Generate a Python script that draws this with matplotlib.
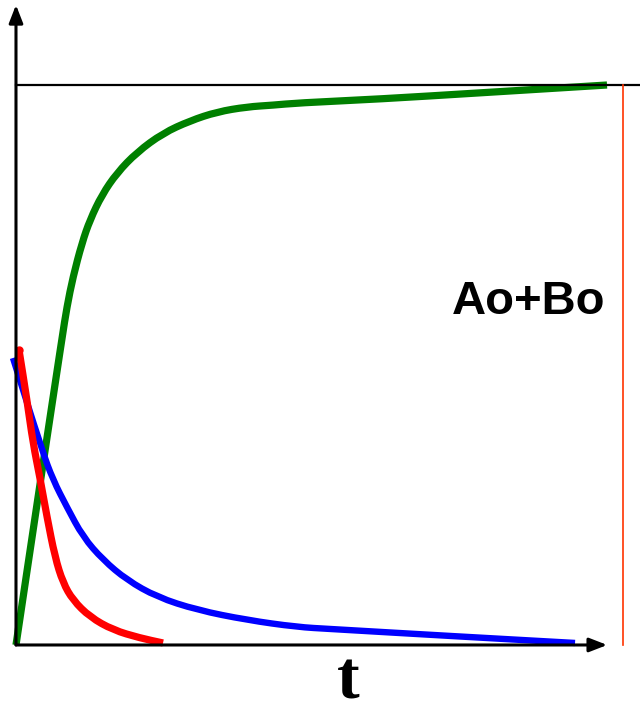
import numpy as np
import matplotlib
matplotlib.use('Agg')
from matplotlib import pyplot as plt
from matplotlib.path import Path
from matplotlib.patches import PathPatch

# product (green), reactant A (blue), reactant B (red): t vs concentration
t_verde = [0.0, 0.407, 0.780, 0.864, 0.966, 1.119, 1.254, 1.458, 1.712, 2.051,
           2.492, 2.949, 3.407, 3.915, 4.356, 4.780, 6.169, 7.864, 10.017]
c_verde = [0.0, 0.2875, 0.548, 0.604, 0.657, 0.718, 0.759, 0.804, 0.843, 0.880,
           0.914, 0.936, 0.952, 0.961, 0.964, 0.968, 0.975, 0.986, 1.0]

t_azul = [-0.051, 0.441, 0.627, 0.864, 1.136, 1.475, 1.881, 2.390,
          3.068, 3.915, 4.763, 5.322, 7.356, 9.475]
c_azul = [0.5125, 0.348, 0.295, 0.246, 0.193, 0.152, 0.116, 0.0857,
          0.0625, 0.0446, 0.0321, 0.0286, 0.0161, 0.0036]

t_verm = [0.051, 0.186, 0.288, 0.407, 0.525, 0.661, 0.797, 0.966, 1.254,
          1.644, 2.102, 2.492]
c_verm = [0.527, 0.4375, 0.361, 0.298, 0.229, 0.157, 0.111, 0.080, 0.050,
          0.0268, 0.0125, 0.0036]

total = 1.0          # Ao+Bo
t_fim = 10.29        # marcador vertical
rotulo = 'Ao+Bo'
eixo_x = 't'


def curva(ax, t, c, **kw):
    # curva suave: pontos lidos como controles de bezier quadraticas
    v = np.column_stack([t, c])
    m = (v[:-1] + v[1:]) / 2
    verts = [v[0], m[0]]
    codes = [Path.MOVETO, Path.LINETO]
    for i in range(1, len(v) - 1):
        verts += [v[i], m[i]]
        codes += [Path.CURVE3, Path.CURVE3]
    verts.append(v[-1])
    codes.append(Path.LINETO)
    ax.add_patch(PathPatch(Path(verts, codes), fill=False,
                           capstyle='butt', joinstyle='round', **kw))


fig = plt.figure(figsize=(6.4, 7.11), dpi=100)
ax = fig.add_axes([0, 0, 1, 1])
ax.set_xlim(-0.271, 10.576)
ax.set_ylim(-0.1179, 1.1518)
ax.axis('off')

# eixos com setas
seta = dict(arrowstyle='-|>,head_length=0.9,head_width=0.35', lw=2.2,
            color='black', shrinkA=0, shrinkB=0, mutation_scale=12)
ax.annotate('', xy=(0, 1.143), xytext=(0, 0), arrowprops=seta)
ax.annotate('', xy=(10.02, 0), xytext=(0, 0), arrowprops=seta)

# linha do total e marcador
ax.plot([0, 10.6], [total, total], color='black', lw=1.6)
ax.plot([t_fim, t_fim], [0, total], color='#ff3300', lw=1.2)

curva(ax, t_verde, c_verde, edgecolor='#008000', lw=5.2)
curva(ax, t_azul, c_azul, edgecolor='#0000ff', lw=4.6)
curva(ax, t_verm, c_verm, edgecolor='#ff0000', lw=5.2)
ax.plot(t_verm[:1], c_verm[:1], 'o', color='#ff0000', ms=5)

ax.text(8.68, 0.6125, rotulo, fontsize=34, fontweight='bold',
        family='Liberation Sans', ha='center', va='center')
ax.text(5.63, -0.066, eixo_x, fontsize=49, fontweight='bold',
        family='Liberation Serif', ha='center', va='center')

plt.savefig('out.png', dpi=100)
